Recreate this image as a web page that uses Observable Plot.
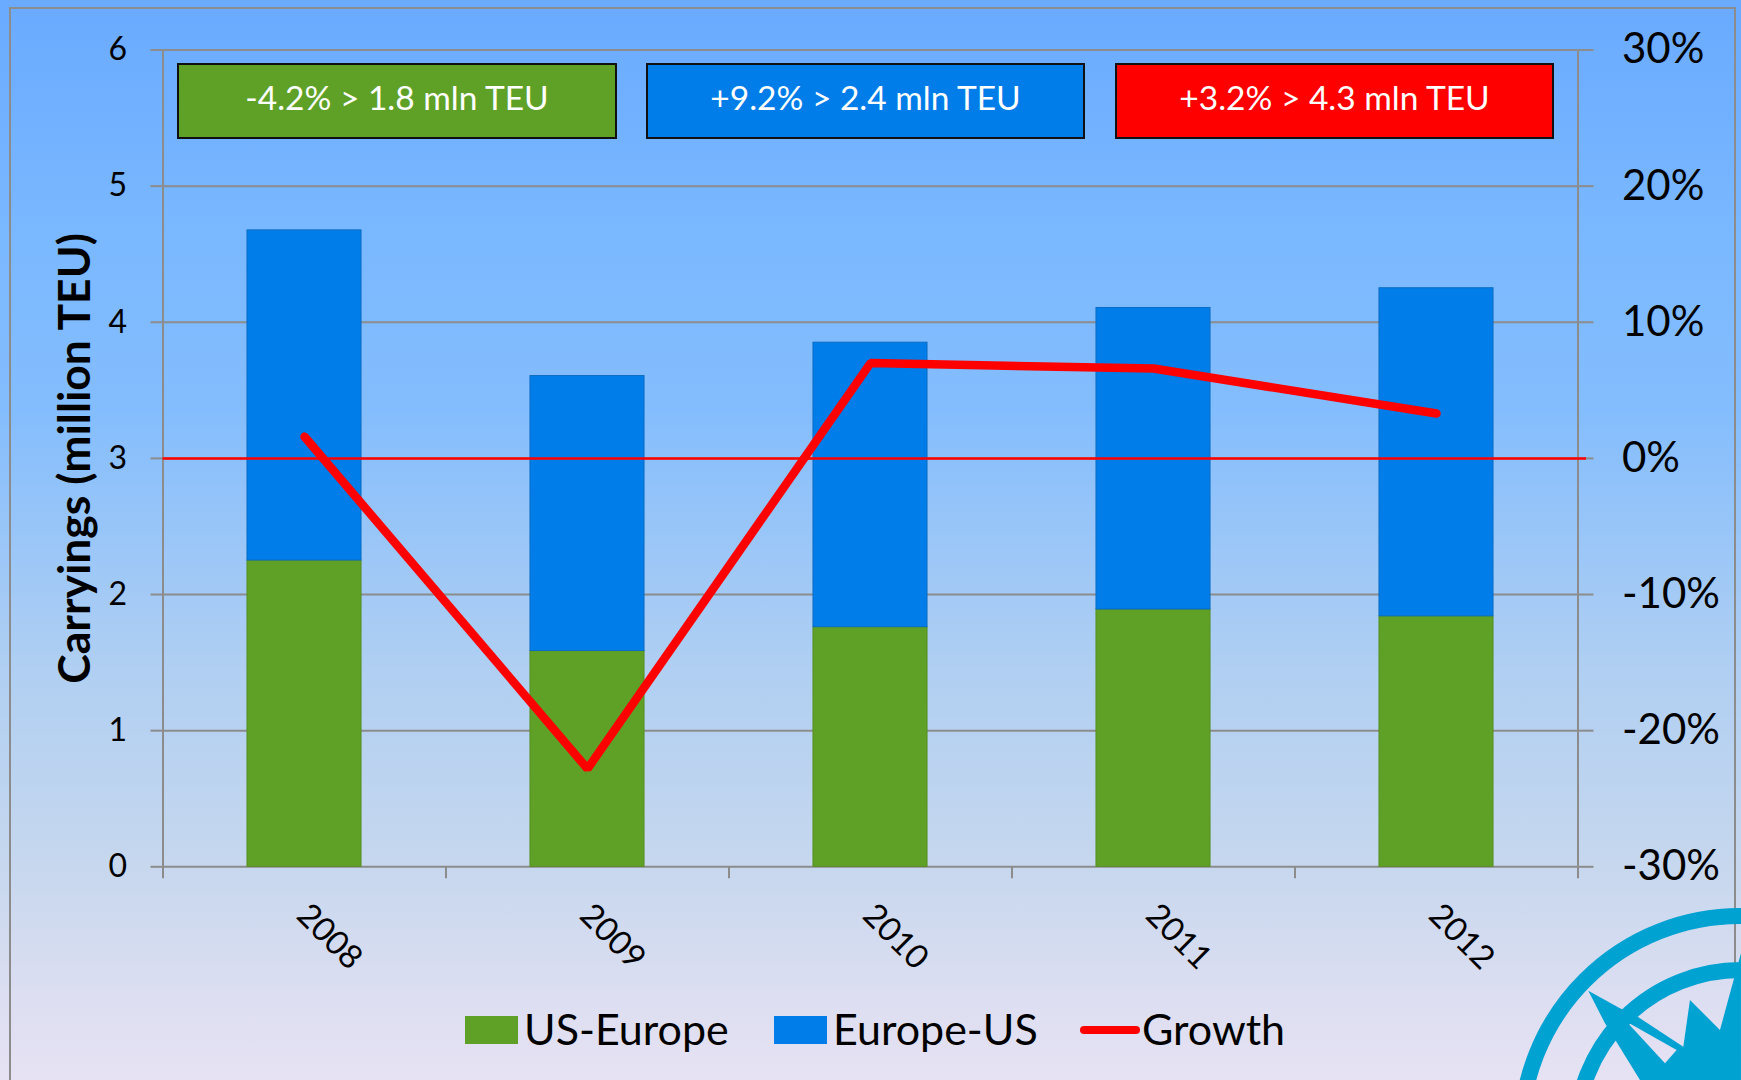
<!DOCTYPE html>
<html><head><meta charset="utf-8">
<script src="https://cdn.jsdelivr.net/npm/d3@7"></script>
<script src="https://cdn.jsdelivr.net/npm/@observablehq/plot@0.6"></script>
<style>
html,body{margin:0;padding:0;background:#e6e2f3}
#page{position:relative;width:1741px;height:1080px;overflow:hidden;font-family:Lato,"Noto Sans",sans-serif;
background:linear-gradient(to bottom,#6aaaff 0%,#7ab8ff 22%,#84bdfd 38%,#b0cff2 62%,#c6d7ee 80%,#dcdef1 92%,#e6e2f3 100%)}
#frame{position:absolute;left:9px;top:7px;width:1727px;height:1090px;border:2px solid #8c8c8c;box-sizing:border-box}
#chart{position:absolute;left:0;top:0}
#chart svg{background:transparent;overflow:visible}
.box{position:absolute;top:63px;height:76px;box-sizing:border-box;border:2px solid #101010;color:#fff;font-size:33.5px;display:flex;align-items:center;justify-content:center;padding-bottom:8px}
#legend{position:absolute;left:0;top:998px;width:1741px;height:60px;font-size:43px;color:#000}
.lg{position:absolute;top:0;height:60px;display:flex;align-items:center;white-space:nowrap}
.sw{display:inline-block;margin-right:6px;position:relative;top:2px}
#logo{position:absolute;left:0;top:0}
</style></head><body>
<div id="page">
<div id="frame"></div>
<svg id="logo" width="1741" height="1080">
  <g fill="none" stroke="#00a2d2" stroke-width="16">
    <circle cx="1740" cy="1135" r="219"/>
    <circle cx="1741" cy="1135" r="165"/>
  </g>
  <g transform="translate(1400,850) scale(0.3333)">
    <path fill="#00a2d2" fill-rule="evenodd" d="M565 422L660 475L705 495L850 590L870 450L960 540L1005 375L1023 310L1023 690L720 690L640 560L615 520Z M680 515L830 600L795 640Z"/>
  </g>
</svg>
<div id="chart"></div>
<div class="box" style="left:177px;width:440px;background:#5fa127">-4.2% &gt; 1.8 mln TEU</div>
<div class="box" style="left:646px;width:439px;background:#007de8">+9.2% &gt; 2.4 mln TEU</div>
<div class="box" style="left:1115px;width:439px;background:#ff0000">+3.2% &gt; 4.3 mln TEU</div>
<div id="legend">
  <div class="lg" style="left:465px"><span class="sw" style="width:53px;height:28px;background:#5fa127"></span>US-Europe</div>
  <div class="lg" style="left:774px"><span class="sw" style="width:53px;height:28px;background:#007de8"></span>Europe-US</div>
  <div class="lg" style="left:1080px"><span class="sw" style="width:60px;height:8px;border-radius:4px;background:#ff0000;margin-right:2px"></span>Growth</div>
</div>
</div>
<script>
const years = [2008, 2009, 2010, 2011, 2012];
const usEurope = [2.25, 1.585, 1.76, 1.89, 1.84];
const europeUs = [2.425, 2.02, 2.09, 2.215, 2.41];
const growth = [1.6, -22.8, 7.0, 6.6, 3.3];
const yTicks = [0, 1, 2, 3, 4, 5, 6];
const growthZero = 3;   // the right axis's 0% sits at 3 on the left axis
const growthPerUnit = 10;
const green = "#5fa127", blue = "#007de8", red = "#ff0000", grey = "#8c8c8c";
const halfBar = 0.2015;

const rows = years.map((year, i) => ({year, us: usEurope[i], eu: europeUs[i], g: growth[i]}));
const edges = [2007.5, 2008.5, 2009.5, 2010.5, 2011.5, 2012.5];

const chart = Plot.plot({
  width: 1741, height: 1000,
  marginLeft: 162.5, marginRight: 163.5, marginTop: 49.5, marginBottom: 133.7,
  style: {fontFamily: "Lato, 'Noto Sans', sans-serif", background: "transparent", color: "#000"},
  x: {type: "linear", domain: [2007.5, 2012.5], axis: null},
  y: {domain: [0, 6], axis: null},
  marks: [
    Plot.ruleY(yTicks, {stroke: grey, strokeWidth: 2}),
    Plot.ruleX([2007.5, 2012.5], {y1: 0, y2: 6, stroke: grey, strokeWidth: 2}),
    Plot.ruleX(edges, {y1: 0, y2: -0.088, stroke: grey, strokeWidth: 2}),
    Plot.axisY({anchor: "left", ticks: yTicks, tickSize: 12, tickPadding: 24, stroke: grey, strokeWidth: 2,
      color: "#000", fontSize: 32, tickFormat: d => String(d), label: null}),
    Plot.axisY({anchor: "right", ticks: yTicks, tickSize: 15, tickPadding: 29, stroke: grey, strokeWidth: 2,
      color: "#000", fontSize: 42, tickFormat: d => `${(d - growthZero) * growthPerUnit}%`, textAnchor: "start", label: null}),
    Plot.rectY(rows, {x1: d => d.year - halfBar, x2: d => d.year + halfBar, y1: 0, y2: d => d.us, fill: green, stroke: "#549020", strokeWidth: 1}),
    Plot.rectY(rows, {x1: d => d.year - halfBar, x2: d => d.year + halfBar, y1: d => d.us, y2: d => d.us + d.eu, fill: blue, stroke: "#0b6dc4", strokeWidth: 1}),
    Plot.ruleY([growthZero], {x1: 2007.5, x2: 2012.53, stroke: red, strokeWidth: 2.5}),
    Plot.line(rows, {x: "year", y: d => d.g / growthPerUnit + growthZero, stroke: red, strokeWidth: 8.5, strokeLinejoin: "miter", strokeLinecap: "round"}),
    Plot.text(rows, {x: d => d.year, y: 0, text: d => String(d.year), rotate: 45, fontSize: 33, fill: "#000", dx: 25, dy: 70, textAnchor: "middle"}),
    Plot.text(["Carryings (million TEU)"], {frameAnchor: "left", text: d => d, rotate: -90, fontSize: 44.5, fontWeight: 700, fill: "#000", dx: -87, textAnchor: "middle"})
  ]
});
document.getElementById("chart").append(chart);
</script>
</body></html>
